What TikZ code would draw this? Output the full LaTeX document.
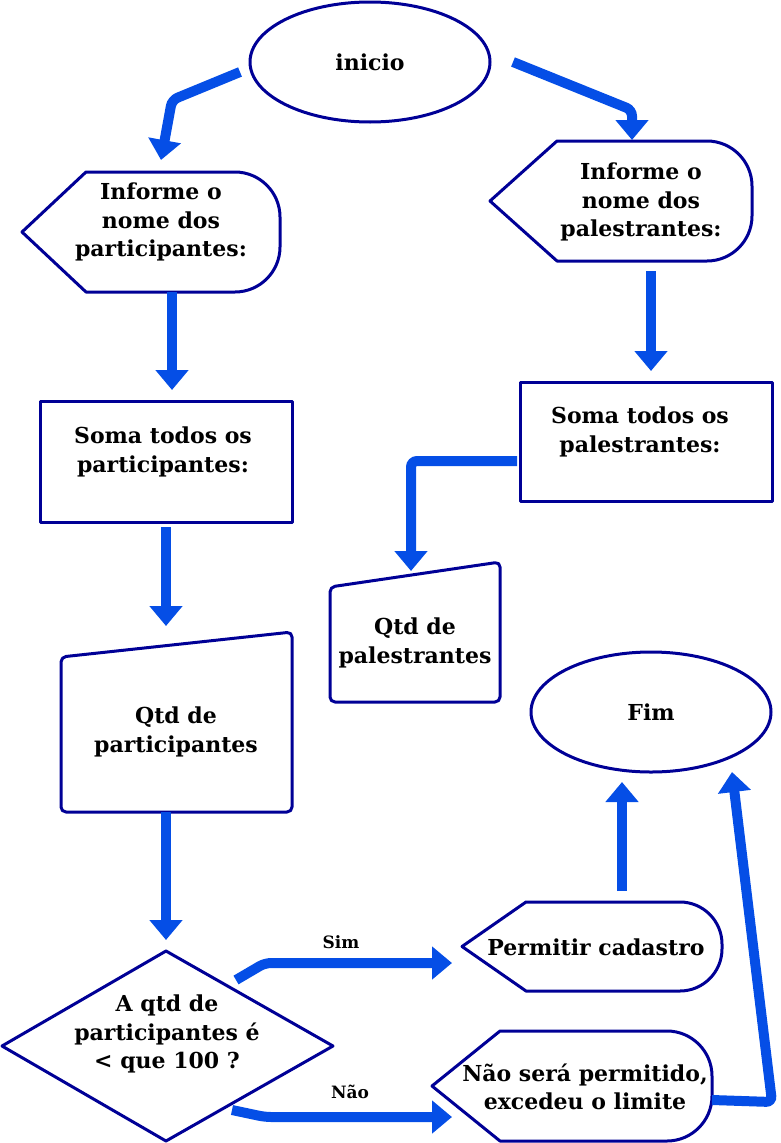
\documentclass[tikz,border=0pt]{standalone}
\usepackage{fontspec}
\setmainfont{DejaVu Serif}
\usetikzlibrary{arrows.meta,shapes.geometric}
\definecolor{navy}{RGB}{0,0,150}
\definecolor{flow}{RGB}{5,78,230}
\newcommand\DispShape[6]{% left tip x, flat start x, right x, top y, bottom y, radius
  \draw[shapeline] (#1,{(#4+#5)/2}) -- (#2,#4) -- ({#3-#6},#4)
    .. controls ({#3-0.45*#6},#4) and (#3,{#4+0.45*#6}) .. (#3,{#4+#6})
    -- (#3,{#5-#6})
    .. controls (#3,{#5-0.45*#6}) and ({#3-0.45*#6},#5) .. ({#3-#6},#5)
    -- (#2,#5) -- cycle;}
\begin{document}
\begin{tikzpicture}[x=1pt,y=-1pt,
  shapeline/.style={draw=navy,line width=3pt,fill=white,line join=round},
  lbl/.style={font=\bfseries\fontsize{22}{28.5}\selectfont,align=center,text=black,inner sep=0pt},
  small/.style={font=\bfseries\fontsize{17}{19}\selectfont,text=black,inner sep=0pt},
  flowarrow/.style={draw=flow,line width=10pt,rounded corners=6pt,-{Triangle[width=32pt,length=20pt]}},
  oval/.style={ellipse,shapeline,minimum width=240pt,minimum height=120pt,inner sep=0pt,lbl}
]
\useasboundingbox (0,0) rectangle (780,1143);

% ---- shapes ----
\node[oval] (inicio) at (370,62) {inicio};

\DispShape{22}{86}{280}{172}{292}{45}
\node[lbl] (inpart) at (161,222) {Informe o\\nome dos\\participantes:};

\DispShape{490}{557}{752}{141}{261}{45}
\node[lbl] (inpal) at (641,202) {Informe o\\nome dos\\palestrantes:};

\draw[shapeline] (40,401) rectangle (292,522);
\node[lbl] (somapart) at (163,452) {Soma todos os\\participantes:};

\draw[shapeline] (520,382) rectangle (772,501);
\node[lbl] (somapal) at (640,432) {Soma todos os\\palestrantes:};

\draw[shapeline,rounded corners=5pt] (61,657) -- (292,632) -- (292,812) -- (61,812) -- cycle;
\node[lbl] (qtdpart) at (176,732) {Qtd de\\participantes};

\draw[shapeline,rounded corners=5pt] (330,587) -- (500,562) -- (500,702) -- (330,702) -- cycle;
\node[lbl] (qtdpal) at (415,643) {Qtd de\\palestrantes};

\node[oval] (fim) at (651,712) {Fim};

\draw[shapeline] (166,951) -- (333,1046) -- (166,1141) -- (2,1046) -- cycle;
\node[lbl] (dec) at (167,1034) {A qtd de\\participantes é\\< que 100 ?};

\DispShape{462}{526}{722}{902}{991}{42}
\node[lbl] (perm) at (596,947) {Permitir cadastro};

\DispShape{432}{500}{712}{1031}{1141}{45}
\node[lbl] (nao) at (585,1087) {Não será permitido,\\excedeu o limite};

% ---- connector end points ----
\coordinate (c1s) at (240,72);  \coordinate (c1b) at (172,100); \coordinate (c1e) at (161,160);
\coordinate (c2s) at (513,62);  \coordinate (c2b) at (632,110); \coordinate (c2e) at (632,140);
\coordinate (c3s) at (172,292); \coordinate (c3e) at (172,390);
\coordinate (c4s) at (651,271); \coordinate (c4e) at (651,371);
\coordinate (c5s) at (166,527); \coordinate (c5e) at (166,626);
\coordinate (c6s) at (517,461); \coordinate (c6b) at (411,461); \coordinate (c6e) at (411,571);
\coordinate (c7s) at (166,812); \coordinate (c7e) at (166,940);
\coordinate (c8s) at (236,980); \coordinate (c8b) at (265,963); \coordinate (c8e) at (452,963);
\coordinate (c9s) at (232,1110); \coordinate (c9b) at (265,1117); \coordinate (c9e) at (452,1117);
\coordinate (c10s) at (622,891); \coordinate (c10e) at (622,782);
\coordinate (c11s) at (712,1100); \coordinate (c11b) at (772,1102); \coordinate (c11e) at (732,772);

% ---- connectors ----
\draw[flowarrow] (c1s) -- (c1b) -- (c1e);
\draw[flowarrow] (c2s) -- (c2b) -- (c2e);
\draw[flowarrow] (c3s) -- (c3e);
\draw[flowarrow] (c4s) -- (c4e);
\draw[flowarrow] (c5s) -- (c5e);
\draw[flowarrow] (c6s) -- (c6b) -- (c6e);
\draw[flowarrow] (c7s) -- (c7e);
\draw[flowarrow] (c8s) -- (c8b) -- (c8e);
\draw[flowarrow] (c9s) -- (c9b) -- (c9e);
\draw[flowarrow] (c10s) -- (c10e);
\draw[flowarrow] (c11s) -- (c11b) -- (c11e);

\node[small] (sim) at (341,942) {Sim};
\node[small] (naolbl) at (350,1092) {Não};
\end{tikzpicture}
\end{document}
